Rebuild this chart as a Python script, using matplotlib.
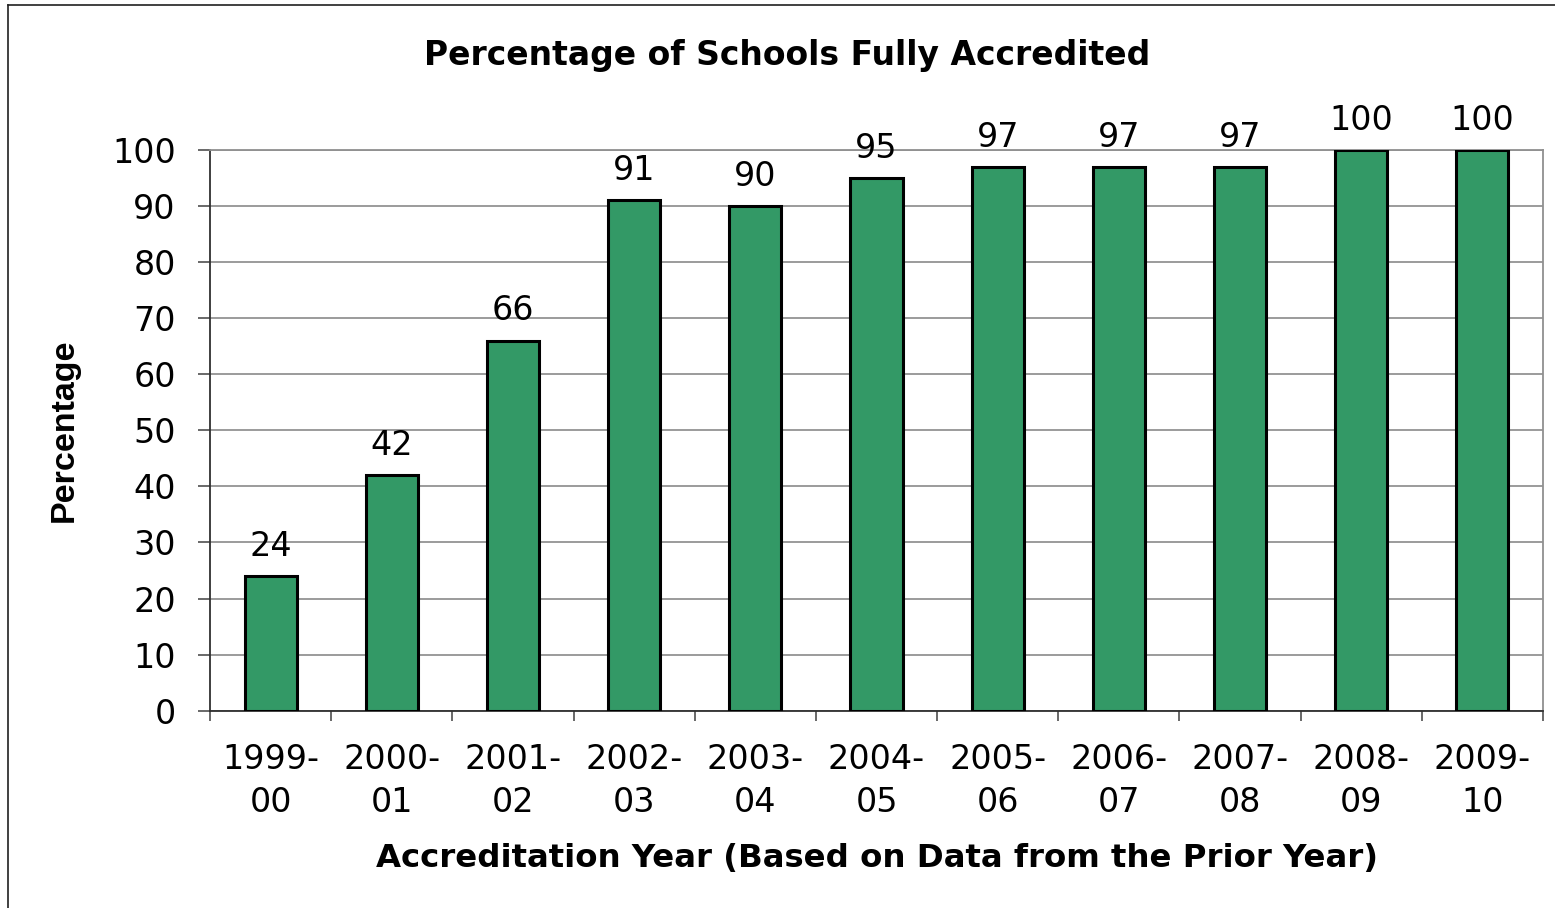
import numpy as np
import matplotlib.pyplot as plt
from matplotlib.lines import Line2D

plt.rcParams['font.family'] = ['DejaVu Sans']

# ==== data ====
years = ['1999-\n00', '2000-\n01', '2001-\n02', '2002-\n03', '2003-\n04', '2004-\n05',
         '2005-\n06', '2006-\n07', '2007-\n08', '2008-\n09', '2009-\n10']
pct = [24, 42, 66, 91, 90, 95, 97, 97, 97, 100, 100]

W, H = 1555, 908
fig = plt.figure(figsize=(W / 100, H / 100), dpi=100)
ax = fig.add_axes([210 / W, 1 - 710.7 / H, (1543 - 210) / W, (710.7 - 150) / H])

x = np.arange(len(years))
ax.bar(x, pct, width=0.43, color='#339966', edgecolor='black', linewidth=2.2, zorder=3)

# value labels above bars
for xi, v in zip(x, pct):
    ax.annotate(str(v), (xi, v), xytext=(0, 14.5), textcoords='offset points',
                ha='center', va='baseline', fontsize=24)

ax.set_xlim(-0.5, len(years) - 0.5)
ax.set_ylim(0, 100)
ax.set_yticks(np.arange(0, 101, 10))
ax.yaxis.grid(True, color='#808080', linewidth=1.1, zorder=0)
ax.tick_params(axis='y', labelsize=24, length=8.6, width=1.1, pad=16, color='#404040')

# x ticks sit between categories, labels at bar centers
ax.set_xticks(np.arange(-0.5, len(years), 1.0))
ax.set_xticklabels([])
ax.set_xticks(x, minor=True)
ax.set_xticklabels(years, minor=True, fontsize=24, linespacing=1.4)
ax.tick_params(axis='x', which='major', length=7, width=1.1, color='#404040')
ax.tick_params(axis='x', which='minor', length=0, pad=23)

for side in ['top', 'right']:
    ax.spines[side].set_color('#909090')
    ax.spines[side].set_linewidth(1.3)
for side in ['left', 'bottom']:
    ax.spines[side].set_color('#303030')
    ax.spines[side].set_linewidth(1.3)

ax.set_xlabel('Accreditation Year (Based on Data from the Prior Year)',
              fontsize=23.3, fontweight='bold', labelpad=17.5)
ax.set_ylabel('Percentage', fontsize=24.5, fontweight='bold', labelpad=23,
              family='Liberation Sans')

fig.text(787 / W, 1 - 55 / H, 'Percentage of Schools Fully Accredited',
         ha='center', va='center', fontsize=23.8, fontweight='bold')

# chart border (only left and top are inside the picture)
fig.add_artist(Line2D([8 / W, 8 / W], [0, 1 - 5 / H], color='#202020', linewidth=1.2))
fig.add_artist(Line2D([8 / W, 1], [1 - 5 / H, 1 - 5 / H], color='#202020', linewidth=1.2))

fig.savefig('out.png', dpi=100)
